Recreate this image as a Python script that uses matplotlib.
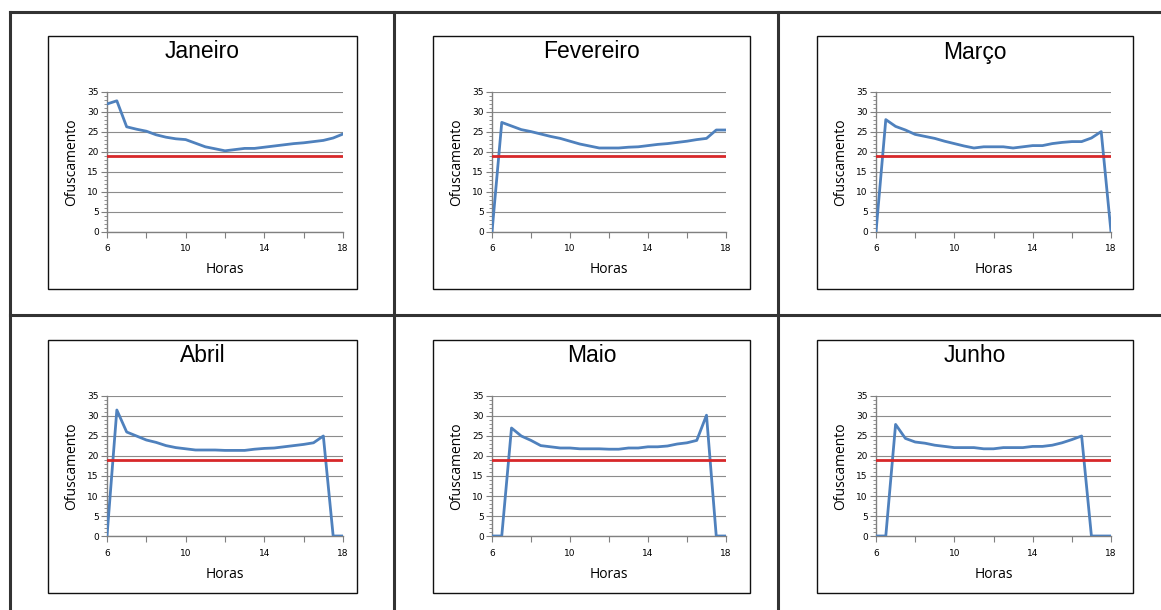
import matplotlib
matplotlib.use("Agg")
import matplotlib.pyplot as plt
from matplotlib.lines import Line2D
from matplotlib.patches import Rectangle
from matplotlib.ticker import MultipleLocator, FixedLocator

# half-hour readings from 6h to 18h
hours = [6, 6.5, 7, 7.5, 8, 8.5, 9, 9.5, 10, 10.5, 11, 11.5, 12,
         12.5, 13, 13.5, 14, 14.5, 15, 15.5, 16, 16.5, 17, 17.5, 18]

janeiro = [32.0, 32.8, 26.3, 25.7, 25.2, 24.3, 23.7, 23.3, 23.1, 22.2, 21.3, 20.8, 20.3,
           20.6, 20.9, 20.9, 21.2, 21.5, 21.8, 22.1, 22.3, 22.6, 22.9, 23.5, 24.5]
fevereiro = [0.0, 27.4, 26.5, 25.6, 25.1, 24.5, 23.9, 23.4, 22.7, 22.0, 21.5, 21.0, 21.0,
             21.0, 21.2, 21.3, 21.6, 21.9, 22.1, 22.4, 22.7, 23.1, 23.4, 25.5, 25.5]
marco = [0.0, 28.1, 26.4, 25.5, 24.4, 23.9, 23.4, 22.7, 22.1, 21.5, 21.0, 21.3, 21.3,
         21.3, 21.0, 21.3, 21.6, 21.6, 22.1, 22.4, 22.6, 22.6, 23.5, 25.1, 0.0]
abril = [0.0, 31.5, 26.0, 25.0, 24.0, 23.4, 22.6, 22.1, 21.8, 21.5, 21.5, 21.5, 21.4,
         21.4, 21.4, 21.7, 21.9, 22.0, 22.3, 22.6, 22.9, 23.3, 25.0, 0.0, 0.0]
maio = [0.0, 0.0, 27.0, 25.0, 23.9, 22.6, 22.3, 22.0, 22.0, 21.8, 21.8, 21.8, 21.7,
        21.7, 22.0, 22.0, 22.3, 22.3, 22.5, 23.0, 23.3, 23.9, 30.2, 0.0, 0.0]
junho = [0.0, 0.0, 27.9, 24.4, 23.5, 23.2, 22.7, 22.4, 22.1, 22.1, 22.1, 21.8, 21.8,
         22.1, 22.1, 22.1, 22.4, 22.4, 22.7, 23.3, 24.1, 25.0, 0.0, 0.0, 0.0]

months = ["Janeiro", "Fevereiro", "Março", "Abril", "Maio", "Junho"]
series = [janeiro, fevereiro, marco, abril, maio, junho]
limite = 19

W, H = 1161, 610
fig = plt.figure(figsize=(W / 100, H / 100), dpi=100)


def fx(px):
    return px / W


def fy(py):
    return 1 - py / H


# table grid
grid_col = "#333333"
for (x0, y0, x1, y1) in [(10, 12, W, 12), (10, 12, 10, H), (394, 12, 394, H),
                         (778, 12, 778, H), (10, 315, W, 315)]:
    fig.add_artist(Line2D([fx(x0), fx(x1)], [fy(y0), fy(y1)], color=grid_col,
                          lw=2.2, transform=fig.transFigure))

# chart boxes and plot areas (pixels)
box_cols = [(48, 357), (433, 750), (817, 1133)]
box_rows = [(36, 289), (340, 593)]
plot_cols = [(107, 343), (492, 726), (876, 1111)]
plot_rows = [(92, 232), (396, 536)]
title_rows = [52, 356]

for i, (name, vals) in enumerate(zip(months, series)):
    r, c = divmod(i, 3)
    bl, br = box_cols[c]
    bt, bb = box_rows[r]
    fig.add_artist(Rectangle((fx(bl), fy(bb)), (br - bl) / W, (bb - bt) / H,
                             fill=False, ec="#111111", lw=1.0,
                             transform=fig.transFigure))
    fig.text(fx((bl + br) / 2), fy(title_rows[r]), name, ha="center", va="center",
             fontsize=16.5, family="Liberation Sans")

    pl, pr = plot_cols[c]
    pt, pb = plot_rows[r]
    ax = fig.add_axes([fx(pl), fy(pb), (pr - pl) / W, (pb - pt) / H])
    ax.plot(hours, vals, color="#4F81BD", lw=2.0, zorder=3)
    ax.axhline(limite, color="#D7282A", lw=2.0, zorder=4)
    ax.set_xlim(6, 18)
    ax.set_ylim(0, 35)
    ax.set_xticks([6, 10, 14, 18])
    ax.xaxis.set_minor_locator(FixedLocator([8, 12, 16]))
    ax.yaxis.set_major_locator(MultipleLocator(5))
    ax.yaxis.set_minor_locator(MultipleLocator(1))
    ax.tick_params(axis="x", which="both", length=4, width=0.8, color="#808080",
                   labelsize=6.5, pad=5)
    ax.tick_params(axis="y", which="major", length=4, width=0.8, color="#808080",
                   labelsize=6.5, pad=2)
    ax.tick_params(axis="y", which="minor", length=2, width=0.6, color="#808080")
    ax.grid(axis="y", which="major", color="#8C8C8C", lw=0.8)
    ax.set_axisbelow(True)
    for s in ["top", "right"]:
        ax.spines[s].set_visible(False)
    for s in ["left", "bottom"]:
        ax.spines[s].set_color("#808080")
        ax.spines[s].set_linewidth(1.0)
    ax.set_xlabel("Horas", fontsize=10, family="Open Sans")
    ax.set_ylabel("Ofuscamento", fontsize=10, family="Open Sans")
    ax.xaxis.set_label_coords(0.5, -38 / (pb - pt))
    ax.xaxis.label.set_va("center")
    ax.yaxis.set_label_coords(-35 / (pr - pl), 0.5)
    ax.yaxis.label.set_va("center")

fig.savefig("out.png", dpi=100)
